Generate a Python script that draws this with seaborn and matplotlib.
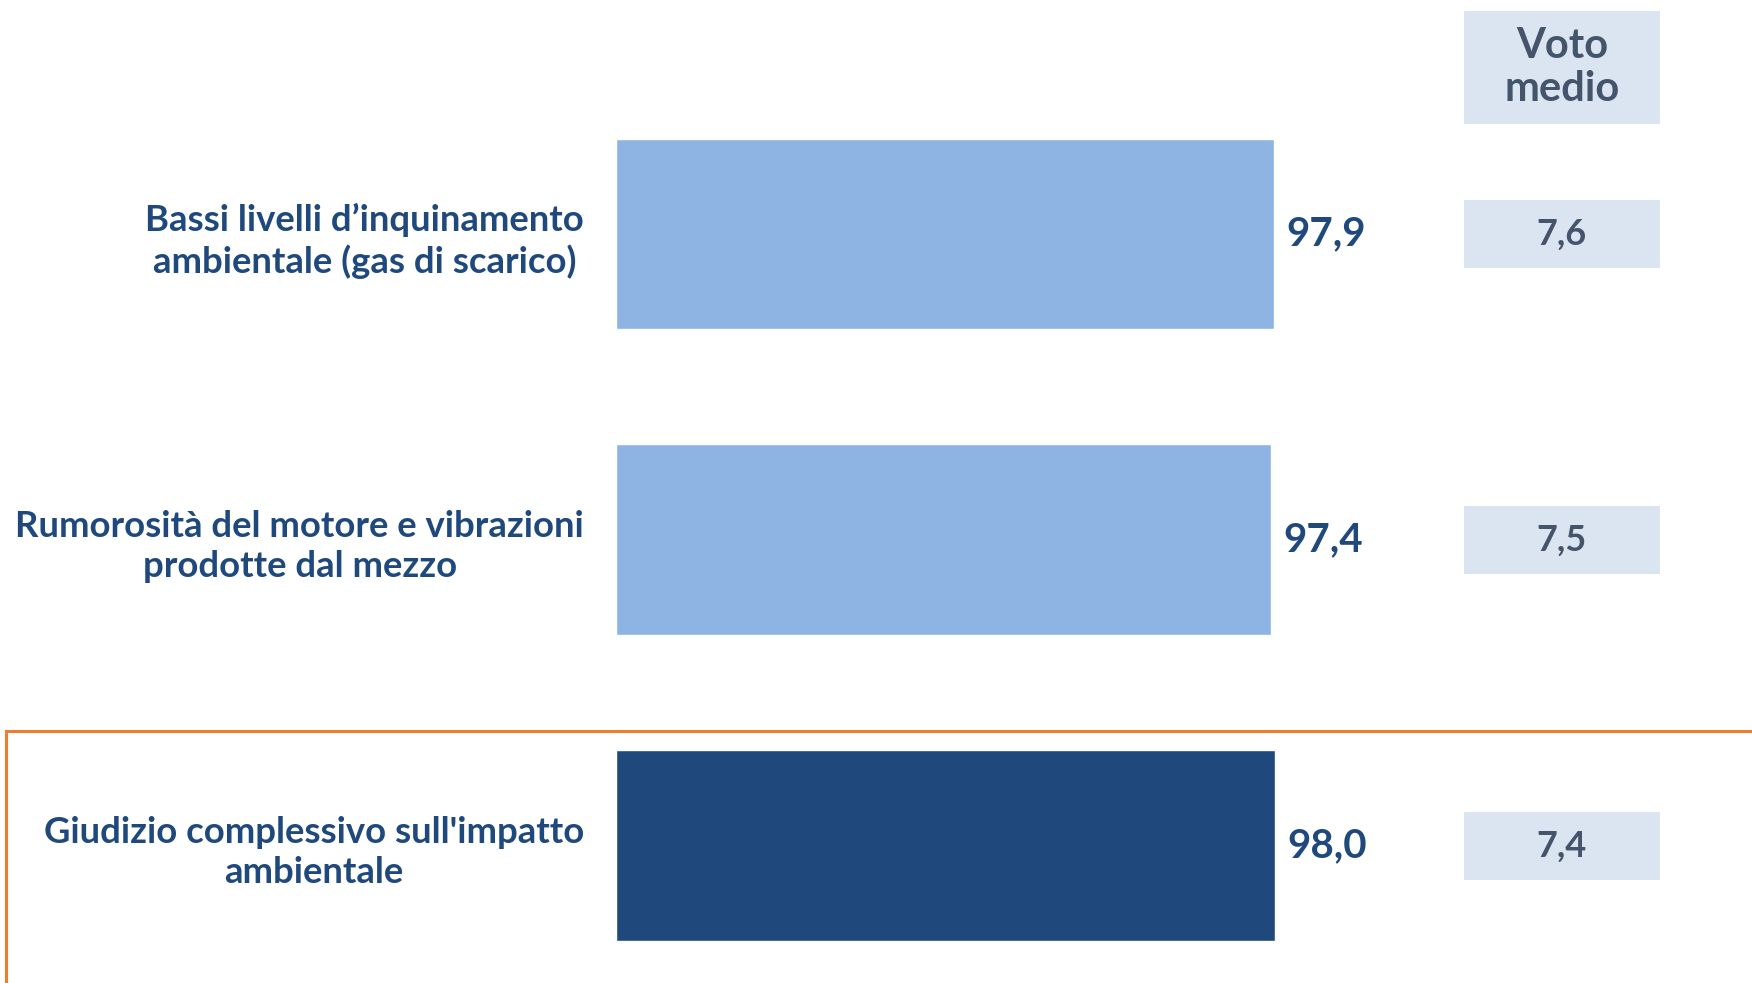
import matplotlib
matplotlib.use("Agg")
import matplotlib.pyplot as plt
import seaborn as sns
import pandas as pd
from matplotlib.patches import Rectangle

# ---- data ----
categories = [
    "Bassi livelli d’inquinamento\nambientale (gas di scarico)",
    "Rumorosità del motore e vibrazioni\nprodotte dal mezzo",
    "Giudizio complessivo sull'impatto\nambientale",
]
values = [97.9, 97.4, 98.0]
voto_medio = [7.6, 7.5, 7.4]
voto_header = "Voto\nmedio"
bar_colors = ["#8EB4E3", "#8EB4E3", "#1F497D"]

sns.set_theme(style="white")
plt.rcParams["font.family"] = ["Lato", "DejaVu Sans"]

W, H = 1752, 983
fig = plt.figure(figsize=(W / 100, H / 100), dpi=100)

TEXT_BLUE = "#1F497D"
GREY_TEXT = "#44546A"
BOX = "#DBE5F1"

ax = fig.add_axes([616 / W, 0, 672 / W, 1 - 81 / H])
df = pd.DataFrame({"cat": categories, "val": values})
sns.barplot(data=df, x="val", y="cat", hue="cat", palette=bar_colors,
            orient="h", width=0.624, legend=False, ax=ax, saturation=1)
ax.set_xlim(0, 100)
ax.set_ylim(2.448, -0.5)
ax.set_xticks([])
ax.set_xlabel("")
ax.set_ylabel("")
ax.set_yticks(range(len(categories)))
ax.set_yticklabels(categories, fontsize=26.3, fontweight="bold",
                   color=TEXT_BLUE, linespacing=1.25)
for t in ax.get_yticklabels():
    t.set_multialignment("center")
ax.tick_params(axis="y", length=0, pad=23)
sns.despine(ax=ax, left=True, bottom=True)

for cont, v in zip(ax.containers, values):
    ax.bar_label(cont, labels=[f"{v:.1f}".replace(".", ",")], padding=9,
                 fontsize=29, fontweight="bold", color=TEXT_BLUE)

# Voto medio column
ax2 = fig.add_axes([1464 / W, 0, 196 / W, 1 - 81 / H])
ax2.set_xlim(0, 1)
ax2.set_ylim(2.448, -0.5)
ax2.axis("off")
for i, v in enumerate(voto_medio):
    ax2.add_patch(Rectangle((0, i - 0.111), 1, 0.222, facecolor=BOX, lw=0))
    ax2.text(0.5, i, f"{v:.1f}".replace(".", ","), ha="center", va="center",
             fontsize=26, fontweight="bold", color=GREY_TEXT)
ax2.add_patch(Rectangle((0, -0.729), 1, 0.370, facecolor=BOX, lw=0, clip_on=False))
ax2.text(0.5, -0.544, voto_header, ha="center", va="center", fontsize=30,
         fontweight="bold", color=GREY_TEXT, linespacing=1.15, clip_on=False)

# orange highlight frame
fig.add_artist(Rectangle((5.6 / W, -0.05), 1.2, (H - 731) / H + 0.05,
                         transform=fig.transFigure, fill=False,
                         edgecolor="#ED7D31", lw=2.2))

fig.savefig("out.png", dpi=100)
